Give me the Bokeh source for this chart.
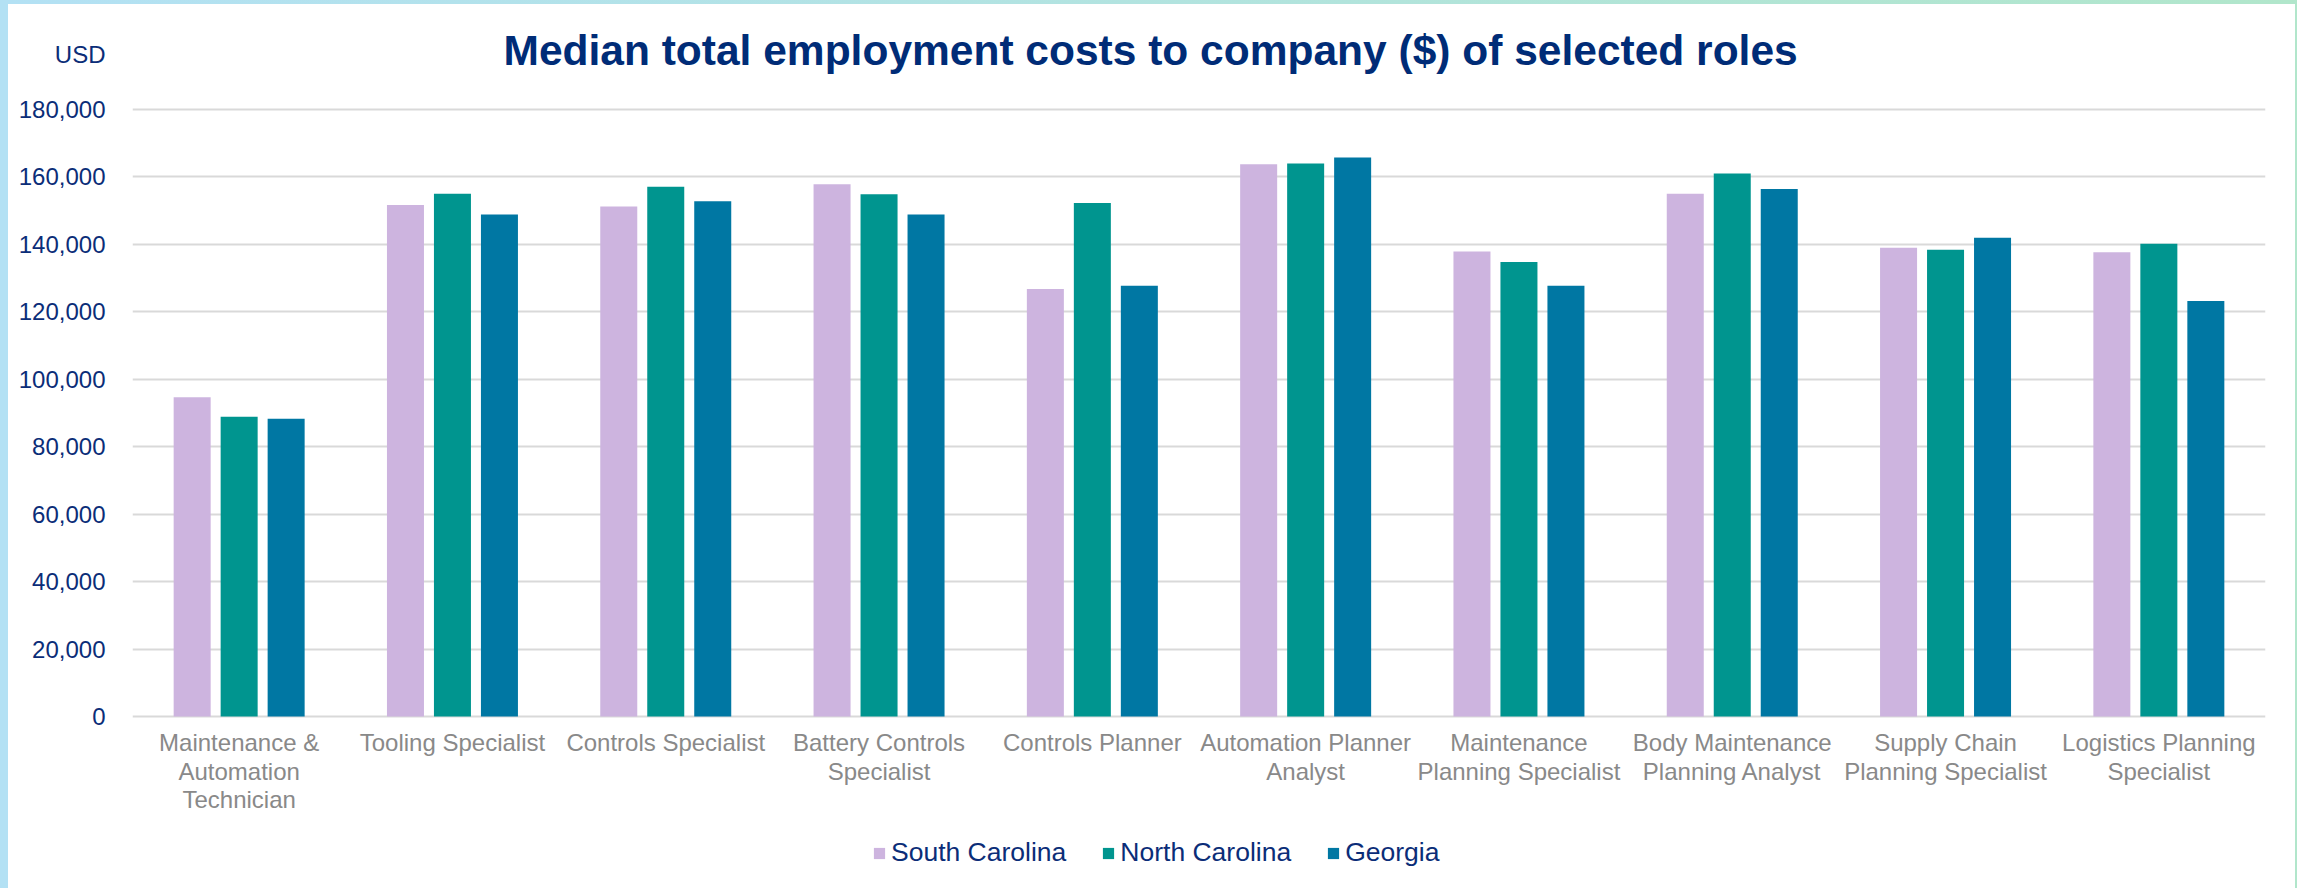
from bokeh.plotting import figure
from bokeh.models import (ColumnDataSource, FactorRange, Range1d, Legend, LegendItem,
                          NumeralTickFormatter, FixedTicker, Label)
from bokeh.transform import dodge
from bokeh.core.properties import value
from bokeh.embed import file_html
from bokeh.resources import INLINE

roles = ["Maintenance &\nAutomation\nTechnician", "Tooling Specialist", "Controls Specialist",
         "Battery Controls\nSpecialist", "Controls Planner", "Automation Planner\nAnalyst",
         "Maintenance\nPlanning Specialist", "Body Maintenance\nPlanning Analyst",
         "Supply Chain\nPlanning Specialist", "Logistics Planning\nSpecialist"]
south_carolina = [94700, 151700, 151200, 157800, 126800, 163800, 137900, 155000, 139000, 137700]
north_carolina = [88900, 155000, 157100, 154900, 152300, 164000, 134800, 161000, 138400, 140200]
georgia = [88300, 148900, 152800, 148900, 127700, 165800, 127700, 156400, 142000, 123200]
series = ["South Carolina", "North Carolina", "Georgia"]
y_ticks = [0, 20000, 40000, 60000, 80000, 100000, 120000, 140000, 160000, 180000]
title_text = "Median total employment costs to company ($) of selected roles"
unit_text = "USD"

colors = ["#CDB4DF", "#00958F", "#0077A3"]
navy = "#0B2D78"
font = "Liberation Sans"

# layout constants (pixels / positions, not data)
FRAME_H = 884
Y_BOTTOM = -51005       # value at the bottom edge of the frame (room for labels + legend)
Y_TOP = 211137          # value at the top edge of the frame (180,000 sits ~105px below it)
UNIT_Y = 196300         # height where the "USD" unit label sits
TITLE_Y = 197500        # title position
TITLE_X = 4.773         # horizontal centre of the title in category units
CAT_LABEL_Y = -3855     # top of the category labels, just under the zero line

src = ColumnDataSource(dict(role=roles, sc=south_carolina, nc=north_carolina, ga=georgia,
                            ly=[CAT_LABEL_Y] * len(roles)))

p = figure(frame_width=2133, frame_height=FRAME_H, x_range=FactorRange(*roles),
           y_range=Range1d(Y_BOTTOM, Y_TOP), output_backend="svg", toolbar_location=None,
           x_axis_location=None,
           min_border_left=124, min_border_right=30, min_border_top=0, min_border_bottom=0)
p.outline_line_color = None

p.xgrid.grid_line_color = None
p.ygrid.ticker = FixedTicker(ticks=y_ticks)
p.ygrid.grid_line_color = "#D9D9D9"
p.ygrid.grid_line_width = 2

p.yaxis.ticker = FixedTicker(ticks=y_ticks + [UNIT_Y])
p.yaxis.formatter = NumeralTickFormatter(format="0,0")
p.yaxis.major_label_overrides = {UNIT_Y: unit_text}
p.yaxis.axis_line_color = None
p.yaxis.major_tick_line_color = None
p.yaxis.minor_tick_line_color = None
p.yaxis.major_label_standoff = 21
p.yaxis.major_label_text_font = font
p.yaxis.major_label_text_font_size = "24px"
p.yaxis.major_label_text_color = navy

offsets = [-0.2203, 0.0, 0.2203]
cols = ["sc", "nc", "ga"]
renderers = []
for col, off, c in zip(cols, offsets, colors):
    r = p.vbar(x=dodge("role", off, range=p.x_range), top=col, width=0.1735, bottom=0,
               source=src, fill_color=c, line_color=None)
    renderers.append(r)

# category labels under the zero line
p.text(x="role", y="ly", text="role", source=src, text_align="center", text_baseline="top",
       text_font=value(font), text_font_size="24px", text_line_height=1.04,
       text_color="#898989")

p.add_layout(Label(x=TITLE_X, y=TITLE_Y, text=title_text, text_align="center",
                   text_baseline="alphabetic", text_font=font, text_font_size="42.5px",
                   text_font_style="bold", text_color="#002C77"))

legend = Legend(items=[LegendItem(label=s, renderers=[r]) for s, r in zip(series, renderers)],
                orientation="horizontal", location=(740, 20),
                glyph_width=14, glyph_height=14, label_text_font=font,
                label_text_font_size="26.5px", label_text_color=navy,
                label_standoff=5, spacing=35, padding=0, margin=0,
                border_line_color=None, background_fill_alpha=0)
p.add_layout(legend, "center")

p.styles = {
    "border-left": "8px solid #B3E1F4",
    "border-right": "2px solid #ABE5D6",
    "border-top": "4px solid #B3E4E0",
    "border-bottom": "0px solid white",
    "border-image": "linear-gradient(to right, #B3E1F4, #B1E6CB) 1",
}

open("out.html", "w").write(file_html(p, INLINE))
